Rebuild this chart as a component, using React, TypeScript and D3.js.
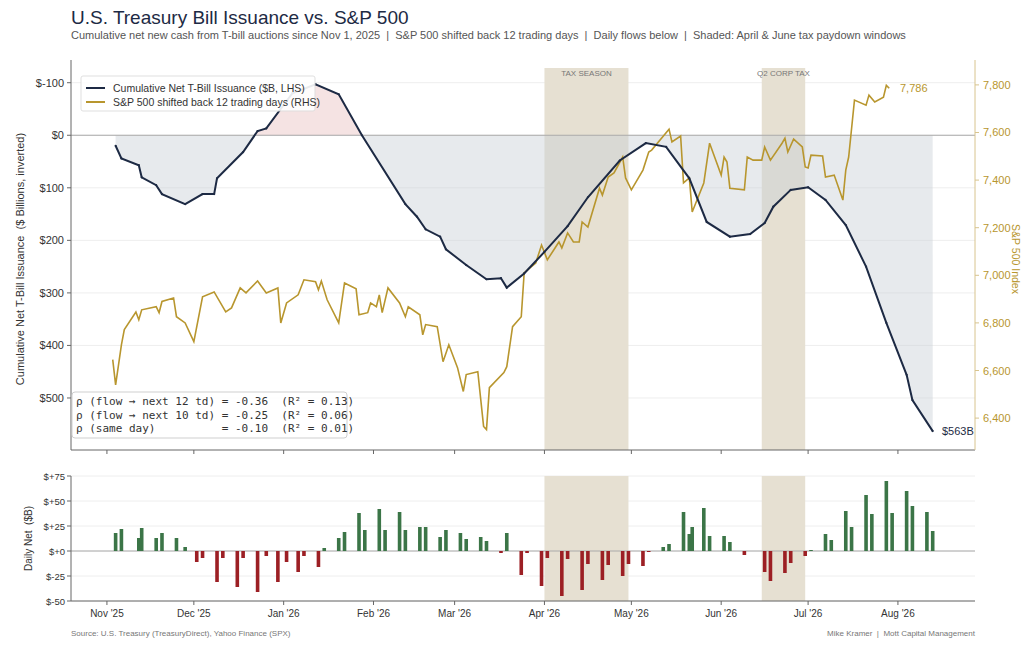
import * as d3 from 'd3'

// day offsets are days since Nov 1, 2025
const MONTH_DAYS = [0, 30, 61, 92, 120, 151, 181, 212, 242, 273]
const MONTH_LABELS = ["Nov '25", "Dec '25", "Jan '26", "Feb '26", "Mar '26", "Apr '26", "May '26", "Jun '26", "Jul '26", "Aug '26"]

const CUM_DAYS = [3, 5, 11, 12, 17, 19, 27, 33, 37, 38, 47, 52, 55, 64, 72, 80, 88, 103, 107, 110, 115, 117, 124, 131, 136, 138, 144, 151, 159, 166, 177, 186, 193, 201, 207, 215, 222, 227, 230, 236, 242, 248, 255, 262, 269, 276, 278, 285]
const CUM_VALUES = [20, 44, 57, 80, 95, 112, 131, 112, 112, 82, 32, -8, -13, -80, -97, -78, 0, 131, 155, 179, 193, 217, 247, 274, 272, 290, 263, 222, 173, 118, 48, 15, 22, 82, 165, 193, 188, 167, 136, 104, 99, 123, 171, 250, 357, 456, 504, 563]

const SPX_DAYS = [2, 3, 5, 6, 10, 11, 12, 17, 18, 19, 23, 24, 27, 30, 33, 37, 41, 43, 46, 48, 52, 55, 59, 60, 62, 66, 68, 72, 73, 74, 76, 80, 82, 86, 87, 90, 91, 93, 94, 95, 97, 101, 103, 104, 108, 109, 110, 114, 116, 118, 121, 123, 124, 128, 130, 131, 132, 137, 138, 140, 143, 144, 146, 148, 150, 152, 156, 157, 159, 161, 163, 164, 166, 170, 171, 173, 175, 178, 179, 181, 185, 187, 188, 194, 195, 198, 199, 201, 202, 206, 208, 212, 213, 214, 215, 220, 221, 223, 226, 227, 229, 233, 234, 235, 237, 240, 241, 242, 243, 247, 248, 251, 254, 255, 256, 258, 262, 263, 265, 268, 269, 270]
const SPX_VALUES = [6646, 6540, 6708, 6772, 6846, 6813, 6855, 6868, 6843, 6890, 6905, 6826, 6800, 6721, 6910, 6930, 6846, 6863, 6947, 6926, 6976, 6926, 6947, 6800, 6884, 6918, 6981, 6973, 6939, 6976, 6897, 6800, 6968, 6943, 6834, 6843, 6884, 6868, 6918, 6843, 6947, 6884, 6826, 6868, 6834, 6750, 6793, 6784, 6637, 6708, 6612, 6512, 6583, 6595, 6365, 6352, 6528, 6591, 6616, 6784, 6826, 7010, 7031, 7052, 7127, 7065, 7140, 7115, 7178, 7140, 7140, 7224, 7203, 7366, 7337, 7413, 7430, 7497, 7409, 7359, 7442, 7518, 7526, 7614, 7560, 7585, 7388, 7409, 7266, 7388, 7555, 7421, 7497, 7476, 7366, 7359, 7497, 7484, 7484, 7539, 7484, 7555, 7576, 7518, 7572, 7539, 7455, 7451, 7505, 7501, 7413, 7421, 7316, 7442, 7497, 7736, 7715, 7757, 7728, 7748, 7798, 7786]

const FLOW_DAYS = [3, 5, 11, 12, 17, 19, 24, 27, 31, 33, 38, 40, 45, 47, 52, 55, 59, 62, 66, 68, 73, 75, 80, 82, 87, 89, 94, 96, 101, 103, 108, 110, 115, 117, 122, 124, 129, 131, 136, 138, 143, 145, 150, 152, 157, 159, 164, 166, 171, 173, 178, 180, 185, 187, 192, 194, 199, 201, 202, 206, 208, 213, 215, 220, 227, 229, 234, 236, 241, 243, 248, 250, 255, 257, 262, 264, 269, 271, 276, 278, 283, 285]
const FLOW_VALUES = [18, 22, 13, 23, 13, 18, 13, 4, -11, -7, -31, -7, -36, -7, -41, -5, -31, -11, -21, -5, -16, 3, 13, 19, 38, 21, 42, 21, 39, 21, 24, 24, 14, 21, 18, 12, 14, 10, -2, 18, -24, -2, -35, -7, -45, -8, -39, -13, -29, -14, -25, -13, -15, -1, 4, 7, 39, 17, 24, 43, 15, 15, 9, -4, -21, -30, -22, -12, -5, 1, 17, 11, 40, 24, 56, 37, 70, 38, 60, 45, 39, 20]

const WINDOWS = [
  { start: 151, end: 180, label: 'TAX SEASON' },
  { start: 226, end: 241, label: 'Q2 CORP TAX' },
]
const LEFT_TICKS = [-100, 0, 100, 200, 300, 400, 500]
const RIGHT_TICKS = [6400, 6600, 6800, 7000, 7200, 7400, 7600, 7800]
const FLOW_TICKS = [-50, -25, 0, 25, 50, 75]

const NAVY = '#1d2a44'
const GOLD = '#b8962e'
const GRID = '#eeeeee'
const AXIS = '#666'
const FONT = 'Liberation Sans, Arial, sans-serif'

const L = 71, R = 975, T1 = 68, B1 = 450, T2 = 476, B2 = 601

export default function App() {
  const x = d3.scaleLinear().domain([-12.4, 299.6]).range([L, R])
  const yL = d3.scaleLinear().domain([-128, 599]).range([T1, B1])
  const yR = d3.scaleLinear().domain([6266, 7871]).range([B1, T1])
  const yF = d3.scaleLinear().domain([-50, 75]).range([B2, T2])

  const cum = CUM_DAYS.map((d, i) => [d, CUM_VALUES[i]] as [number, number])
  const spx = SPX_DAYS.map((d, i) => [d, SPX_VALUES[i]] as [number, number])

  const area = d3.area<[number, number]>().x(p => x(p[0])).y0(yL(0)).y1(p => yL(p[1]))
  const cumLine = d3.line<[number, number]>().x(p => x(p[0])).y(p => yL(p[1]))
  const spxLine = d3.line<[number, number]>().x(p => x(p[0])).y(p => yR(p[1]))
  const fmtL = (v: number) => `$${v}`
  const fmtR = d3.format(',')
  const fmtF = (v: number) => (v < 0 ? `$${v}` : `$+${v}`)

  return (
    <svg width={1024} height={657} style={{ position: 'absolute', left: 0, top: 0, background: '#fff' }} fontFamily={FONT}>
      <defs>
        <clipPath id="neg"><rect x={L} y={T1} width={R - L} height={yL(0) - T1} /></clipPath>
        <clipPath id="pos"><rect x={L} y={yL(0)} width={R - L} height={B1 - yL(0)} /></clipPath>
      </defs>
      <text x={71} y={24} fontSize={19} fill={NAVY}>U.S. Treasury Bill Issuance vs. S&amp;P 500</text>
      <text x={71} y={39} fontSize={11} fill="#555" style={{ whiteSpace: 'pre' }}>Cumulative net new cash from T-bill auctions since Nov 1, 2025  |  S&amp;P 500 shifted back 12 trading days  |  Daily flows below  |  Shaded: April &amp; June tax paydown windows</text>

      {/* top panel */}
      {LEFT_TICKS.map(t => <line key={t} x1={L} x2={R} y1={yL(t)} y2={yL(t)} stroke={GRID} />)}
      {WINDOWS.map(w => (
        <g key={w.label}>
          <rect x={x(w.start)} y={T1} width={x(w.end) - x(w.start)} height={B1 - T1} fill="#e6e0d2" />
          <text x={(x(w.start) + x(w.end)) / 2} y={76} fontSize={8} fill="#777" textAnchor="middle">{w.label}</text>
        </g>
      ))}
      <path d={area(cum) ?? ''} fill="#f3dcdc" opacity={0.8} clipPath="url(#neg)" />
      <path d={area(cum) ?? ''} fill="#c9d0d8" opacity={0.45} clipPath="url(#pos)" />
      <line x1={L} x2={R} y1={yL(0)} y2={yL(0)} stroke="#aaa" strokeWidth={1.2} />
      <path d={spxLine(spx) ?? ''} fill="none" stroke={GOLD} strokeWidth={1.6} />
      <path d={cumLine(cum) ?? ''} fill="none" stroke={NAVY} strokeWidth={2} />
      {cum.map(p => <circle key={p[0]} cx={x(p[0])} cy={yL(p[1])} r={1.1} fill={NAVY} />)}
      <text x={942} y={yL(563) + 4} fontSize={11} fill={NAVY}>$563B</text>
      <text x={900} y={yR(7786) + 4} fontSize={11} fill={GOLD}>7,786</text>

      <line x1={L} x2={L} y1={T1 - 8} y2={B1} stroke={AXIS} />
      <line x1={L} x2={R} y1={B1} y2={B1} stroke={AXIS} />
      <line x1={R} x2={R} y1={T1 - 8} y2={B1} stroke="#d8c48e" />
      {LEFT_TICKS.map(t => (
        <g key={t}>
          <line x1={L - 4} x2={L} y1={yL(t)} y2={yL(t)} stroke={AXIS} />
          <text x={L - 7} y={yL(t) + 4} fontSize={11} fill="#333" textAnchor="end">{fmtL(t)}</text>
        </g>
      ))}
      {RIGHT_TICKS.map(t => (
        <g key={t}>
          <line x1={R} x2={R + 4} y1={yR(t)} y2={yR(t)} stroke="#d8c48e" />
          <text x={R + 8} y={yR(t) + 4} fontSize={11} fill={GOLD}>{fmtR(t)}</text>
        </g>
      ))}
      {MONTH_DAYS.map(d => <line key={d} x1={x(d)} x2={x(d)} y1={B1} y2={B1 + 4} stroke={AXIS} />)}
      <text transform={`translate(24,${(T1 + B1) / 2}) rotate(-90)`} fontSize={11} fill="#333" textAnchor="middle" style={{ whiteSpace: 'pre' }}>Cumulative Net T-Bill Issuance  ($ Billions, inverted)</text>
      <text transform={`translate(1012,${(T1 + B1) / 2}) rotate(90)`} fontSize={10.5} fill={GOLD} textAnchor="middle">S&amp;P 500 Index</text>

      {/* legend */}
      <rect x={81} y={76} width={234} height={35} fill="#fff" opacity={0.9} stroke="#ddd" rx={2} />
      <line x1={86} x2={105} y1={88} y2={88} stroke={NAVY} strokeWidth={2} />
      <text x={113} y={92} fontSize={10.5} fill="#333">Cumulative Net T-Bill Issuance ($B, LHS)</text>
      <line x1={86} x2={105} y1={102} y2={102} stroke={GOLD} strokeWidth={2} />
      <text x={113} y={106} fontSize={10.5} fill="#333">S&amp;P 500 shifted back 12 trading days (RHS)</text>

      {/* stats box */}
      <rect x={72} y={392} width={275} height={46} fill="#fff" opacity={0.92} stroke="#ccc" rx={3} />
      {['ρ (flow → next 12 td) = -0.36  (R² = 0.13)', 'ρ (flow → next 10 td) = -0.25  (R² = 0.06)', 'ρ (same day)          = -0.10  (R² = 0.01)'].map((s, i) => (
        <text key={i} x={76} y={405 + i * 13.5} fontSize={11} fontFamily="DejaVu Sans Mono, monospace" fill="#333" style={{ whiteSpace: 'pre' }}>{s}</text>
      ))}

      {/* bottom panel */}
      {FLOW_TICKS.map(t => <line key={t} x1={L} x2={R} y1={yF(t)} y2={yF(t)} stroke={GRID} />)}
      {WINDOWS.map(w => <rect key={w.label} x={x(w.start)} y={T2} width={x(w.end) - x(w.start)} height={B2 - T2} fill="#e6e0d2" />)}
      <line x1={L} x2={R} y1={yF(0)} y2={yF(0)} stroke="#aaa" />
      {FLOW_DAYS.map((d, i) => {
        const v = FLOW_VALUES[i]
        return <rect key={i} x={x(d) - 1.8} width={3.6} y={Math.min(yF(v), yF(0))} height={Math.abs(yF(v) - yF(0))} fill={v >= 0 ? '#3b7547' : '#9c1f24'} />
      })}
      <line x1={L} x2={L} y1={T2} y2={B2} stroke={AXIS} />
      <line x1={L} x2={R} y1={B2} y2={B2} stroke={AXIS} />
      {FLOW_TICKS.map(t => (
        <g key={t}>
          <line x1={L - 4} x2={L} y1={yF(t)} y2={yF(t)} stroke={AXIS} />
          <text x={L - 6} y={yF(t) + 3.5} fontSize={9.5} fill="#333" textAnchor="end">{fmtF(t)}</text>
        </g>
      ))}
      {MONTH_DAYS.map((d, i) => (
        <g key={d}>
          <line x1={x(d)} x2={x(d)} y1={B2} y2={B2 + 4} stroke={AXIS} />
          <text x={x(d)} y={B2 + 16} fontSize={10} fill="#333" textAnchor="middle">{MONTH_LABELS[i]}</text>
        </g>
      ))}
      <text transform={`translate(32,${(T2 + B2) / 2}) rotate(-90)`} fontSize={10} fill="#333" textAnchor="middle" style={{ whiteSpace: 'pre' }}>Daily Net  ($B)</text>

      <text x={L} y={636} fontSize={8} fill="#777">Source: U.S. Treasury (TreasuryDirect), Yahoo Finance (SPX)</text>
      <text x={R} y={636} fontSize={8} fill="#777" textAnchor="end" style={{ whiteSpace: 'pre' }}>Mike Kramer  |  Mott Capital Management</text>
    </svg>
  )
}
